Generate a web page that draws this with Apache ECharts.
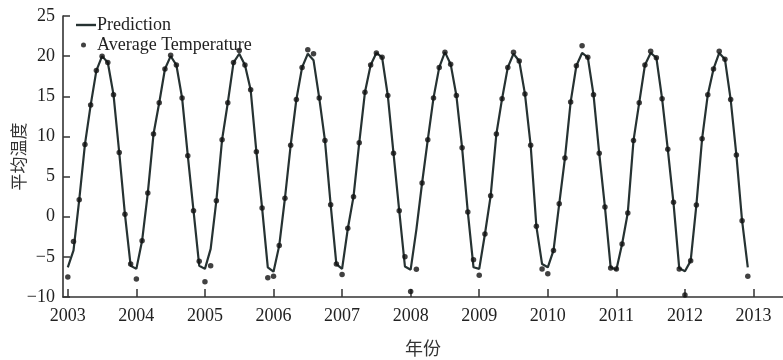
<!DOCTYPE html>
<html>
<head>
<meta charset="utf-8">
<script src="https://cdn.jsdelivr.net/npm/echarts@6/dist/echarts.min.js"></script>
<style>html,body{margin:0;padding:0;background:#fff}#c{width:783px;height:360px}</style>
</head>
<body>
<div id="c"></div>
<script>
// Monthly samples from Jan 2003 to Dec 2012
const startYear = 2003;
const yearTicks = [2003, 2004, 2005, 2006, 2007, 2008, 2009, 2010, 2011, 2012, 2013];
const yTicks = [-10, -5, 0, 5, 10, 15, 20, 25];

const prediction = [
  -6.3, -4.2, 2.1, 9.0, 13.9, 18.2, 20.0, 19.2, 15.2, 8.0, 0.3, -6.1,
  -6.5, -3.0, 2.95, 10.3, 14.2, 18.4, 20.0, 18.9, 14.8, 7.6, 0.75, -6.1,
  -6.5, -4.0, 2.0, 9.6, 14.2, 19.2, 20.3, 18.9, 15.8, 8.1, 1.1, -6.3,
  -6.85, -3.6, 2.3, 8.9, 14.6, 18.6, 20.3, 19.5, 14.8, 9.5, 1.5, -5.9,
  -6.5, -1.5, 2.5, 9.2, 15.5, 18.9, 20.4, 19.85, 15.1, 7.9, 0.75, -6.2,
  -6.6, -1.6, 4.2, 9.6, 14.8, 18.6, 20.5, 19.0, 15.1, 8.6, 0.6, -6.3,
  -6.5, -2.15, 2.6, 10.3, 14.7, 18.6, 20.3, 19.4, 15.3, 8.9, -1.2, -5.9,
  -6.3, -4.2, 1.6, 7.3, 14.3, 18.8, 20.4, 19.85, 15.2, 7.9, 1.2, -6.3,
  -6.6, -3.4, 0.5, 9.5, 14.2, 18.9, 20.4, 19.8, 14.7, 8.4, 1.7, -6.4,
  -6.8, -5.5, 1.45, 9.7, 15.2, 18.4, 20.4, 19.6, 14.6, 7.7, -0.5, -6.3
];

const averageTemperature = [
  -7.5, -3.1, 2.1, 9.0, 13.9, 18.2, 20.0, 19.2, 15.2, 8.0, 0.3, -5.9,
  -7.75, -3.0, 2.95, 10.3, 14.2, 18.4, 20.1, 18.9, 14.8, 7.6, 0.75, -5.55,
  -8.1, -6.1, 2.0, 9.6, 14.2, 19.2, 20.7, 18.9, 15.8, 8.1, 1.1, -7.6,
  -7.4, -3.6, 2.3, 8.9, 14.6, 18.6, 20.8, 20.3, 14.8, 9.5, 1.5, -5.9,
  -7.2, -1.45, 2.5, 9.2, 15.5, 18.9, 20.4, 19.85, 15.1, 7.9, 0.75, -5.0,
  -9.3, -6.55, 4.2, 9.6, 14.8, 18.6, 20.5, 19.0, 15.1, 8.6, 0.6, -5.35,
  -7.3, -2.15, 2.6, 10.3, 14.7, 18.6, 20.5, 19.4, 15.3, 8.9, -1.2, -6.5,
  -7.1, -4.2, 1.6, 7.3, 14.3, 18.8, 21.3, 19.85, 15.2, 7.9, 1.2, -6.4,
  -6.5, -3.4, 0.46, 9.5, 14.2, 18.9, 20.6, 19.8, 14.7, 8.4, 1.8, -6.5,
  -9.75, -5.5, 1.45, 9.7, 15.2, 18.4, 20.6, 19.6, 14.6, 7.7, -0.5, -7.4
];

const timeOf = i => startYear + i / 12;
const predData = prediction.map((v, i) => [timeOf(i), v]);
const tempData = averageTemperature.map((v, i) => [timeOf(i), v]);

const serif = '"Liberation Serif", "DejaVu Serif", serif';
const cjk = '"Noto Sans CJK SC", sans-serif';
const axisColor = '#333';
const lineColor = '#263232';

const chart = echarts.init(document.getElementById('c'), null, {renderer: 'canvas'});
chart.setOption({
  animation: false,
  backgroundColor: '#fff',
  grid: {left: 63, right: 0, top: 16, bottom: 63, containLabel: false, outerBoundsMode: 'none'},
  legend: {
    orient: 'vertical', left: 71, top: 11, itemGap: 2,
    itemWidth: 20, itemHeight: 15,
    symbolKeepAspect: true,
    textStyle: {fontFamily: serif, fontSize: 18, color: '#222', padding: [0, 0, 0, -4], lineHeight: 16},
    data: [
      {name: 'Prediction', icon: 'path://M0,0H20V2.4H0Z', itemStyle: {color: lineColor}},
      {name: 'Average Temperature', icon: 'path://M7.5,0A2.5,2.5 0 1,1 7.5,5A2.5,2.5 0 1,1 7.5,0ZM0,0H0.01V0.01H0ZM20,0H19.99V0.01H20Z', itemStyle: {color: '#111'}}
    ]
  },
  xAxis: {
    type: 'value', min: 2002.93, max: 2013.43,
    name: '年份', nameLocation: 'middle', nameGap: 42, nameMoveOverlap: false,
    nameTextStyle: {fontFamily: cjk, fontSize: 18, color: '#333'},
    axisLine: {show: true, onZero: false, lineStyle: {color: axisColor, width: 1.6}},
    axisTick: {show: true, inside: true, length: 8, customValues: yearTicks, lineStyle: {color: axisColor, width: 1.5}},
    axisLabel: {customValues: yearTicks, fontFamily: serif, fontSize: 18, color: '#222', margin: 10, formatter: v => String(Math.round(v))},
    splitLine: {show: false}
  },
  yAxis: {
    type: 'value', min: -10, max: 25, interval: 5,
    name: '平均温度', nameLocation: 'middle', nameGap: 36, nameRotate: 90, nameMoveOverlap: false,
    nameTextStyle: {fontFamily: cjk, fontSize: 17, color: '#333'},
    axisLine: {show: true, onZero: false, lineStyle: {color: axisColor, width: 1.6}},
    axisTick: {show: true, inside: true, length: 7, lineStyle: {color: axisColor, width: 1.5}},
    axisLabel: {fontFamily: serif, fontSize: 18, color: '#222', margin: 8, formatter: v => String(v).replace('-', '\u2212')},
    splitLine: {show: false}
  },
  series: [
    {
      name: 'Prediction', type: 'line', data: predData, symbol: 'none',
      lineStyle: {color: lineColor, width: 2.2},
      itemStyle: {color: lineColor}, z: 2
    },
    {
      name: 'Average Temperature', type: 'scatter', data: tempData,
      symbol: 'circle', symbolSize: 5.5,
      itemStyle: {color: '#111'}, z: 3
    }
  ]
});
</script>
</body>
</html>
